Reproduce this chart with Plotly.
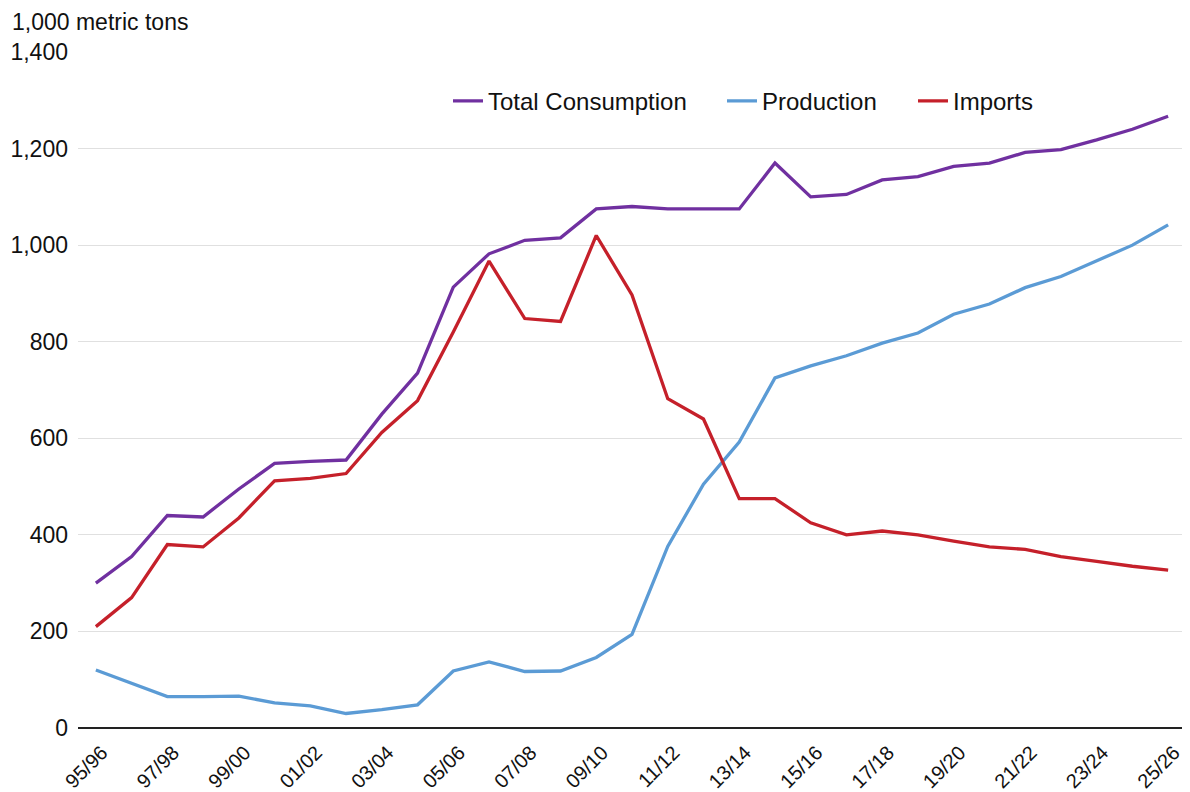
import plotly.graph_objects as go

years = ["95/96", "96/97", "97/98", "98/99", "99/00", "00/01", "01/02", "02/03", "03/04", "04/05",
         "05/06", "06/07", "07/08", "08/09", "09/10", "10/11", "11/12", "12/13", "13/14", "14/15",
         "15/16", "16/17", "17/18", "18/19", "19/20", "20/21", "21/22", "22/23", "23/24", "24/25", "25/26"]

total_consumption = [300, 355, 440, 437, 495, 548, 552, 555, 650, 735,
                     913, 982, 1010, 1015, 1075, 1080, 1075, 1075, 1075, 1170,
                     1100, 1105, 1135, 1142, 1163, 1170, 1192, 1198, 1218, 1240, 1267]

production = [120, 92, 65, 65, 66, 52, 46, 30, 38, 48,
              118, 137, 117, 118, 146, 194, 376, 505, 592, 725,
              750, 771, 797, 818, 857, 878, 912, 935, 968, 1000, 1042]

imports = [210, 270, 380, 375, 435, 512, 517, 527, 612, 678,
           820, 967, 848, 842, 1020, 897, 682, 640, 475, 475,
           425, 400, 408, 400, 387, 375, 370, 355, 345, 335, 327]

tick_labels = years[::2]

series = [
    ("Total Consumption", total_consumption, "#7030A0", "legend"),
    ("Production", production, "#5B9BD5", "legend2"),
    ("Imports", imports, "#C5202A", "legend3"),
]

fig = go.Figure()
for name, vals, color, lg in series:
    fig.add_trace(go.Scatter(x=years, y=vals, mode="lines", name=name, legend=lg,
                             line=dict(color=color, width=3.3)))

font_family = "Liberation Sans, Arial, Helvetica, sans-serif"

# page has an 8px body margin; plot area should span x 78..1186, y 52..728 on the page
W_PLOT = 1108.0
def lx(px):
    return (px - 78) / W_PLOT

legend_common = dict(orientation="h", y=0.927, xanchor="left", yanchor="middle",
                     font=dict(size=24, color="#111111"), bgcolor="rgba(0,0,0,0)")

fig.update_layout(
    width=1182, height=784,
    margin=dict(l=70, r=4, t=44, b=64),
    paper_bgcolor="white", plot_bgcolor="white",
    font=dict(family=font_family, size=23, color="#111111"),
    showlegend=True,
    legend=dict(x=lx(448), **legend_common),
    legend2=dict(x=lx(722), **legend_common),
    legend3=dict(x=lx(913), **legend_common),
    annotations=[dict(text="1,000 metric tons", xref="paper", yref="paper",
                      x=lx(10), y=1.0, yshift=30, xanchor="left", yanchor="middle",
                      showarrow=False, font=dict(size=23, color="#111111"))],
)

fig.update_xaxes(
    type="category", range=[-0.5, 30.5], automargin=False,
    tickmode="array", tickvals=tick_labels, ticktext=tick_labels,
    tickangle=-45, tickfont=dict(size=20), ticklabelstandoff=8, ticklabelshift=6,
    showgrid=False, showline=False, ticks="",
)

fig.update_yaxes(
    range=[0, 1400], dtick=200, tickformat=",", automargin=False,
    showgrid=True, gridcolor="#e0e0e0", gridwidth=1,
    zeroline=True, zerolinecolor="#222222", zerolinewidth=1.5,
    tickfont=dict(size=23), ticks="", ticklabelstandoff=9,
)

fig.write_html("out.html")
